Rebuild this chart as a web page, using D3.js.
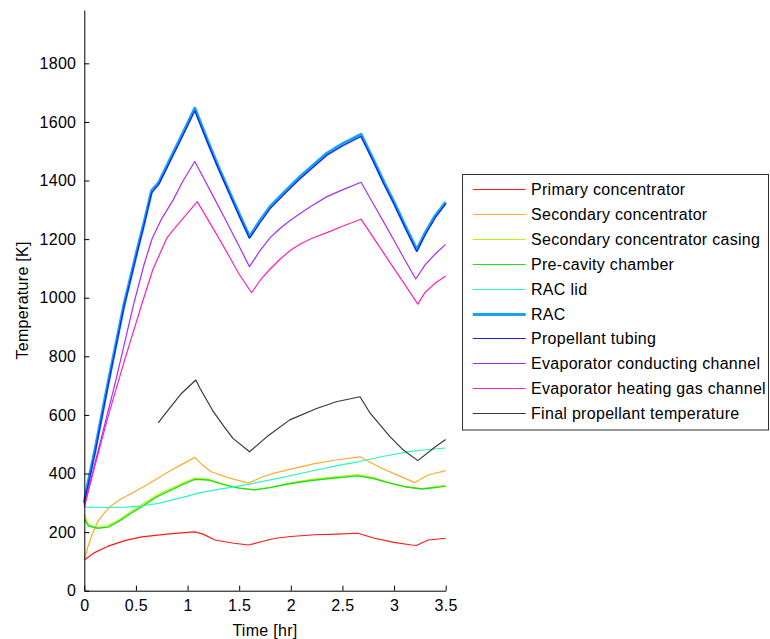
<!DOCTYPE html>
<html>
<head>
<meta charset="utf-8">
<script src="https://cdn.jsdelivr.net/npm/d3@7"></script>
<style>
  html, body { margin: 0; padding: 0; background: #fff; }
  svg { display: block; font-family: "Liberation Sans", Arial, sans-serif; }
  text { letter-spacing: 0.3px; }
</style>
</head>
<body>
<svg id="chart" width="770" height="639"></svg>
<script>
// ---------- data ([time hr, temperature K]) ----------
const seriesNames = [
  "Primary concentrator", "Secondary concentrator", "Secondary concentrator casing",
  "Pre-cavity chamber", "RAC lid", "RAC", "Propellant tubing",
  "Evaporator conducting channel", "Evaporator heating gas channel", "Final propellant temperature"
];
const seriesColors = ["#ff1a1a", "#ffab2e", "#b4f500", "#1ee01e", "#2af7c2", "#16a2f2", "#1c1cf0", "#a82cff", "#ff22b4", "#383838"];
const seriesWidths = [1.2, 1.2, 1.2, 1.4, 1.2, 3.2, 1.2, 1.2, 1.2, 1.2];

const primaryConcentrator = [[0,105],[0.1,130],[0.23,152],[0.4,172],[0.556,184],[0.8,193],[1.0,199],[1.07,201],[1.15,193],[1.265,173],[1.45,162],[1.59,156],[1.72,168],[1.85,179],[2.0,185],[2.23,191],[2.45,193],[2.65,196],[2.81,179],[3.0,165],[3.17,156],[3.22,155],[3.33,173],[3.5,179]];
const secondaryConcentrator = [[0,105],[0.035,150],[0.068,184],[0.13,236],[0.2,268],[0.26,290],[0.35,312],[0.455,332],[0.6,360],[0.81,405],[0.95,432],[1.07,455],[1.15,427],[1.23,406],[1.4,385],[1.59,367],[1.72,388],[1.85,402],[2.0,415],[2.23,434],[2.45,447],[2.67,457],[2.78,436],[2.88,418],[3.05,392],[3.2,369],[3.33,395],[3.5,410]];
const casing = [[0,262],[0.03,230],[0.1,216],[0.2,219],[0.33,240],[0.45,270],[0.556,293],[0.7,326],[0.81,344],[0.95,367],[1.07,384],[1.2,381],[1.35,363],[1.5,350],[1.65,344],[1.8,353],[2.0,368],[2.2,380],[2.4,388],[2.65,396],[2.8,386],[2.95,369],[3.1,356],[3.27,348],[3.4,355],[3.5,359]];
const preCavity = [[0,244],[0.04,221],[0.13,213],[0.23,217],[0.33,236],[0.45,264],[0.556,287],[0.7,320],[0.81,338],[0.95,362],[1.07,380],[1.2,378],[1.35,362],[1.5,350],[1.65,344],[1.8,352],[2.0,366],[2.2,376],[2.4,384],[2.65,392],[2.8,383],[2.95,368],[3.1,355],[3.27,347],[3.4,352],[3.5,357]];
const racLid = [[0,285],[0.2,284],[0.4,285],[0.55,289],[0.72,298],[0.85,310],[1.0,323],[1.1,333],[1.3,346],[1.59,363],[1.9,385],[2.17,406],[2.45,427],[2.65,440],[2.9,459],[3.13,474],[3.3,481],[3.5,487]];
const rac = [[0,300],[0.023,345],[0.104,480],[0.23,708],[0.384,975],[0.513,1163],[0.578,1254],[0.652,1365],[0.72,1392],[0.86,1493],[0.96,1565],[1.07,1646],[1.2,1530],[1.3,1445],[1.4,1365],[1.5,1285],[1.6,1208],[1.7,1262],[1.8,1311],[1.95,1365],[2.09,1413],[2.2,1447],[2.35,1493],[2.5,1525],[2.68,1557],[2.8,1470],[2.9,1395],[3.0,1325],[3.1,1250],[3.22,1163],[3.3,1220],[3.4,1280],[3.5,1326]];
const propellantTubing = [[0,296],[0.023,338],[0.104,472],[0.23,700],[0.384,968],[0.513,1156],[0.578,1248],[0.652,1358],[0.72,1386],[0.86,1486],[0.96,1558],[1.07,1638],[1.2,1524],[1.3,1439],[1.4,1359],[1.5,1279],[1.6,1203],[1.7,1255],[1.8,1304],[1.95,1358],[2.09,1406],[2.2,1440],[2.35,1486],[2.5,1518],[2.68,1550],[2.8,1464],[2.9,1389],[3.0,1319],[3.1,1244],[3.22,1158],[3.3,1214],[3.4,1274],[3.5,1320]];
const evapConducting = [[0,290],[0.1,430],[0.2,570],[0.3,710],[0.4,860],[0.48,981],[0.58,1115],[0.658,1203],[0.75,1270],[0.86,1333],[0.95,1395],[1.07,1465],[1.15,1412],[1.25,1345],[1.35,1278],[1.45,1210],[1.6,1106],[1.7,1160],[1.8,1205],[1.9,1238],[2.0,1265],[2.1,1290],[2.2,1313],[2.35,1345],[2.5,1368],[2.68,1394],[2.8,1320],[2.9,1258],[3.0,1195],[3.1,1132],[3.21,1064],[3.3,1112],[3.4,1150],[3.5,1182]];
const evapHeatingGas = [[0,285],[0.1,423],[0.23,594],[0.39,787],[0.56,981],[0.665,1097],[0.8,1204],[0.86,1231],[0.95,1268],[1.094,1328],[1.2,1265],[1.3,1205],[1.4,1143],[1.5,1080],[1.62,1017],[1.7,1058],[1.8,1098],[1.9,1133],[2.0,1163],[2.1,1185],[2.2,1202],[2.35,1222],[2.5,1244],[2.68,1268],[2.8,1205],[2.9,1152],[3.0,1099],[3.1,1047],[3.23,978],[3.3,1018],[3.4,1050],[3.5,1074]];
const finalPropellant = [[0.716,573],[0.8,611],[0.943,674],[1.08,719],[1.12,691],[1.25,611],[1.35,562],[1.44,520],[1.6,474],[1.77,526],[1.99,583],[2.25,622],[2.44,645],[2.67,662],[2.77,605],[2.96,526],[3.09,480],[3.23,444],[3.41,494],[3.5,516]];

const allSeries = [primaryConcentrator, secondaryConcentrator, casing, preCavity, racLid, rac, propellantTubing, evapConducting, evapHeatingGas, finalPropellant];

const xTicks = [0, 0.5, 1, 1.5, 2, 2.5, 3, 3.5];
const yTicks = [0, 200, 400, 600, 800, 1000, 1200, 1400, 1600, 1800];
const xLabel = "Time [hr]";
const yLabel = "Temperature [K]";

// ---------- drawing ----------
const svg = d3.select("#chart");
const plot = { left: 84.3, right: 445.7, top: 10, bottom: 590.7 };

const x = d3.scaleLinear().domain([0, 3.5]).range([plot.left, plot.right]);
const y = d3.scaleLinear().domain([0, 1982]).range([plot.bottom, plot.top]);

const line = d3.line().x(d => x(d[0])).y(d => y(d[1])).curve(d3.curveLinear);

const g = svg.append("g");
allSeries.forEach((s, i) => {
  g.append("path")
    .attr("d", line(s))
    .attr("fill", "none")
    .attr("stroke", seriesColors[i])
    .attr("stroke-width", seriesWidths[i])
    .attr("stroke-linejoin", "round");
});

// axes (ticks inward)
const xAxis = d3.axisBottom(x).tickValues(xTicks).tickSizeInner(-5).tickSizeOuter(0).tickPadding(9)
  .tickFormat(d => String(d));
const gx = svg.append("g").attr("transform", `translate(0,${plot.bottom})`).call(xAxis);
gx.select(".domain").attr("stroke", "#000");
gx.selectAll(".tick line").attr("stroke", "#000");
gx.selectAll("text").attr("font-size", 16).attr("fill", "#000").attr("font-family", "Liberation Sans, Arial, sans-serif");

const yAxis = d3.axisLeft(y).tickValues(yTicks).tickSizeInner(-5).tickSizeOuter(0).tickPadding(8)
  .tickFormat(d => String(d));
const gy = svg.append("g").attr("transform", `translate(${plot.left},0)`).call(yAxis);
gy.select(".domain").attr("stroke", "#000");
gy.selectAll(".tick line").attr("stroke", "#000");
gy.selectAll("text").attr("font-size", 16).attr("fill", "#000").attr("font-family", "Liberation Sans, Arial, sans-serif");

svg.append("text")
  .attr("x", (plot.left + plot.right) / 2).attr("y", 636)
  .attr("text-anchor", "middle").attr("font-size", 16).text(xLabel);

svg.append("text")
  .attr("transform", `translate(28,${(plot.top + plot.bottom) / 2}) rotate(-90)`)
  .attr("text-anchor", "middle").attr("font-size", 16).text(yLabel);

// legend
const leg = svg.append("g");
leg.append("rect")
  .attr("x", 462.5).attr("y", 174.5).attr("width", 306).attr("height", 255.5)
  .attr("fill", "#fff").attr("stroke", "#333").attr("stroke-width", 1);
seriesNames.forEach((name, i) => {
  const cy = Math.round(189 + i * 24.9) + 0.5;
  leg.append("line")
    .attr("x1", 472.7).attr("x2", 525.7).attr("y1", cy).attr("y2", cy)
    .attr("stroke", seriesColors[i]).attr("stroke-width", i === 5 ? 3 : 1);
  leg.append("text")
    .attr("x", 531).attr("y", cy + 5.8)
    .attr("font-size", 16).attr("fill", "#000").text(name);
});
</script>
</body>
</html>
